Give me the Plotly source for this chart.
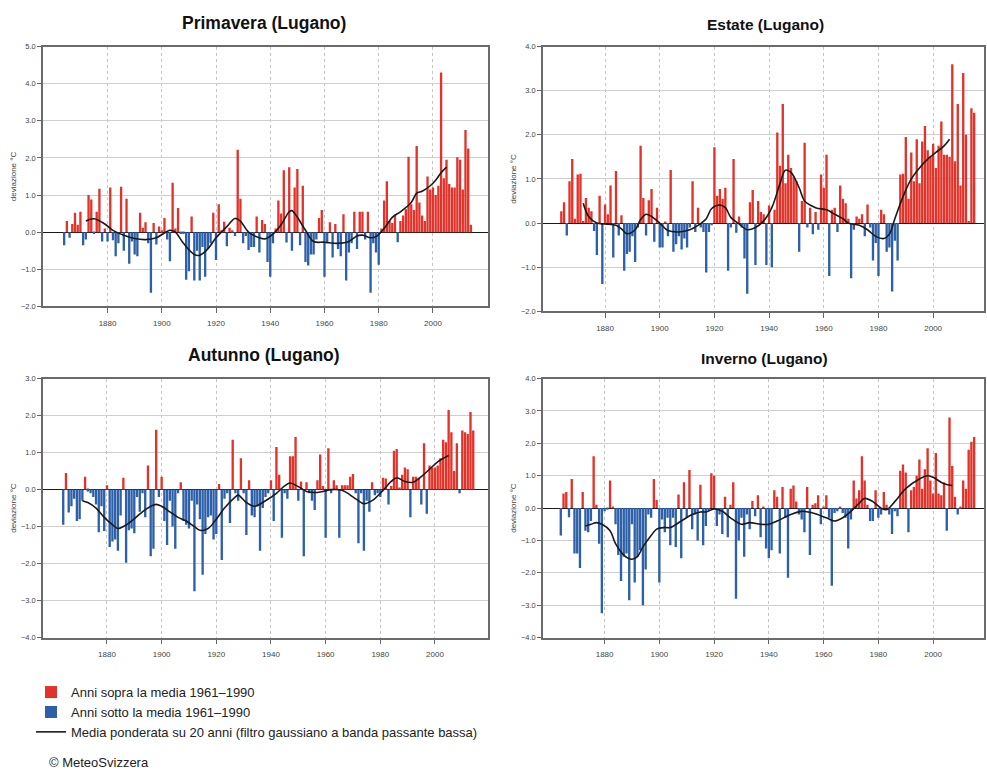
import plotly.graph_objects as go

W, H = 987, 777

# ---------------- data (deviation from 1961-1990 mean, °C) ----------------
prim_first_year = 1864
prim_values = [
    -0.35, 0.30, -0.15, 0.22, 0.52, 0.20, 0.55, -0.35, -0.20, 1.00, 0.88, -0.05, 0.55, 1.17, -0.25, 0.10,
    -0.25, 1.20, -0.22, -0.65, -0.30, 1.22, -0.50, 0.90, -0.85, -0.25, -0.60, -0.65, 0.52, 0.12, 0.27, -0.30, -1.63, 0.25, -0.33, 0.15,
    0.05, 0.38, -0.20, -0.78, 1.33, 0.10, 0.65, -0.05, -0.05, -1.28, -1.05, 0.42, -1.30, -0.50, -1.30, -0.40, -1.20, -0.45, -0.30, 0.52,
    -0.75, 0.75, 0.05, 0.28, -0.38, 0.12, 0.05, -0.10, 2.22, 0.90, -0.30, -0.10, -0.48, -0.40, -0.40, 0.42, -0.55, 0.33, 0.22, -0.80,
    -1.20, -0.30, 0.10, 0.85, 0.50, 1.67, -0.28, 1.75, -0.50, 1.20, 1.70, -0.35, 1.25, -0.80, -0.90, -0.60, -0.60, -0.20, 0.38, 0.60,
    -1.20, -0.30, 0.27, -0.68, 0.22, -0.45, -0.65, 0.48, -1.30, -0.55, -0.30, 0.55, -0.45, 0.55, 0.55, -0.20, 0.55, -1.63, -0.30, -0.55,
    -0.88, 0.10, 0.85, 1.37, 0.30, 0.25, 0.45, -0.27, 0.30, 0.45, 0.62, 2.03, 0.75, 0.60, 2.32, 0.80, 0.45, 0.30, 1.50, 1.15,
    1.20, 1.00, 1.25, 4.30, 1.45, 1.95, 1.30, 1.20, 1.20, 2.02, 1.95, 1.15, 2.75, 2.25, 0.20,
]
prim_curve_years = [1872, 1875, 1879, 1882, 1886, 1890, 1894, 1898, 1901, 1903, 1905, 1908, 1912, 1914, 1917,
                    1920, 1924, 1927, 1929, 1932, 1936, 1938, 1941, 1944, 1947, 1948, 1950, 1953, 1956, 1960,
                    1965, 1969, 1972, 1974, 1977, 1979, 1982, 1985, 1988, 1992, 1994, 1996, 1999, 2001, 2003, 2005]
prim_curve_values = [0.30, 0.36, 0.22, 0.05, -0.08, -0.17, -0.20, -0.15, -0.02, 0.05, 0.00, -0.30, -0.60, -0.62, -0.45,
                     -0.15, 0.15, 0.37, 0.30, 0.00, -0.15, -0.18, -0.05, 0.20, 0.55, 0.58, 0.40, 0.05, -0.25, -0.27,
                     -0.30, -0.25, -0.10, -0.08, -0.15, -0.12, 0.10, 0.40, 0.55, 0.80, 1.05, 1.10, 1.25, 1.40, 1.60, 1.75]

est_first_year = 1864
est_values = [
    0.27, 0.47, -0.28, 0.95, 1.45, 0.10, 1.10, 1.12, 0.05, 0.57, 0.35, 0.27, -0.18, -0.72, 0.62, -1.38,
    0.42, 0.20, 0.85, -0.78, 1.18, -0.28, 0.18, -1.08, -0.70, -0.65, -0.30, -0.88, -0.10, 1.75, 0.57, -0.28, 0.52, 0.77, -0.42, 0.35,
    -0.55, -0.55, 0.03, -0.30, 1.20, -0.65, -0.48, -0.30, -0.60, -0.35, -0.55, -0.10, 0.95, -0.20, 0.35, -0.10, -0.20, -1.12, -0.20, -0.05,
    1.72, 0.62, 0.77, 0.55, 0.80, -1.08, -0.10, 1.45, -0.22, 0.15, -0.10, -0.80, -1.60, 0.47, 0.75, -0.95, 0.50, 0.25, 0.20, -0.95,
    0.40, -1.00, 0.30, 2.05, 1.30, 2.70, 0.90, 1.55, 1.25, 1.05, 0.95, -0.65, 0.50, 1.82, -0.10, 0.35, -0.25, 0.25, -0.15, 1.10,
    0.80, 1.55, -1.20, 0.30, 0.35, -0.20, 0.85, 0.55, 0.45, 0.10, -1.25, -0.15, 0.15, 0.10, 0.20, -0.30, 0.42, -0.10, -0.85, -0.45,
    -1.20, 0.30, 0.20, -0.65, -0.55, -1.55, -0.40, -0.85, 1.10, 1.12, 1.95, 0.55, 1.60, 0.95, 1.90, 0.90, 1.85, 2.20, 1.65, 1.50,
    1.80, 1.25, 1.75, 2.30, 1.55, 1.55, 1.50, 3.60, 1.40, 2.70, 0.85, 3.40, 2.00, 0.05, 2.60, 2.50,
]
est_curve_years = [1872, 1874, 1877, 1880, 1884, 1886, 1888, 1891, 1893, 1895, 1897, 1900, 1903, 1907, 1911, 1914,
                   1917, 1919, 1922, 1924, 1926, 1929, 1932, 1935, 1938, 1941, 1944, 1946, 1948, 1951, 1953, 1957,
                   1961, 1964, 1967, 1969, 1973, 1976, 1979, 1982, 1984, 1986, 1989, 1992, 1995, 1998, 2001, 2004, 2006]
est_curve_values = [0.45, 0.15, 0.00, -0.02, -0.05, -0.13, -0.24, -0.15, 0.08, 0.20, 0.15, 0.00, -0.17, -0.20, -0.15, -0.05,
                    0.10, 0.33, 0.41, 0.35, 0.13, -0.02, -0.15, -0.10, 0.05, 0.35, 0.90, 1.20, 1.15, 0.80, 0.50, 0.35,
                    0.30, 0.20, 0.10, 0.00, -0.05, -0.15, -0.30, -0.35, -0.25, 0.10, 0.60, 1.00, 1.25, 1.45, 1.60, 1.75, 1.90]

aut_first_year = 1864
aut_values = [
    -0.95, 0.45, -0.62, -0.45, -0.25, -0.85, -0.80, -0.30, 0.35, -0.05, -0.10, -0.20, -0.40, -1.15, -0.45, -1.12,
    0.12, -1.55, -1.40, -1.35, -1.65, -0.70, 0.32, -1.98, -1.10, -1.05, -1.18, -0.20, -0.60, -0.10, -0.75, 0.65, -1.80, -1.60, 1.62, -0.20,
    0.35, -0.85, -1.50, -0.30, -1.00, -1.60, -0.10, 0.20, -0.85, -0.95, -1.05, -0.30, -2.75, -0.40, -0.80, -2.30, -1.20, -0.75, -0.70, -1.35,
    -1.20, 0.15, -1.90, -0.25, -0.10, -0.90, 1.35, -0.10, -0.30, 0.85, -0.10, -1.23, 0.25, -0.70, -0.75, -0.45, -1.65, -0.50, -0.20, -0.10,
    0.25, -0.85, 1.15, 0.40, -1.30, -0.10, -0.25, 0.90, 0.90, 1.42, -0.30, 0.22, -1.80, 0.20, -0.10, -0.30, -0.55, 0.25, 0.95, 0.10,
    -1.30, 1.12, -0.10, 0.25, 0.12, -1.30, 0.12, 0.12, 0.12, 0.35, 0.42, -0.10, -1.45, -0.10, -1.65, -0.30, -0.60, 0.20, -0.15, -0.10,
    -0.20, 0.32, 0.30, -0.40, 0.10, 1.05, 1.10, 0.05, 0.40, 0.60, 0.55, -0.75, 0.35, 0.35, 0.32, -0.40, 1.25, -0.65, 0.65, 0.60,
    0.60, 0.65, 0.85, 1.35, 1.28, 2.15, 1.55, 0.50, 1.25, -0.10, 1.60, 1.55, 1.50, 2.10, 1.60,
]
aut_curve_years = [1871, 1873, 1876, 1879, 1882, 1884, 1886, 1889, 1893, 1896, 1898, 1900, 1903, 1906, 1909, 1912,
                   1914, 1917, 1920, 1923, 1927, 1928, 1931, 1934, 1938, 1942, 1945, 1947, 1950, 1953, 1956, 1959,
                   1962, 1966, 1971, 1974, 1977, 1981, 1984, 1986, 1989, 1992, 1995, 1998, 2001, 2005]
aut_curve_values = [-0.30, -0.35, -0.50, -0.75, -0.95, -1.05, -1.00, -0.85, -0.60, -0.45, -0.40, -0.45, -0.60, -0.75, -0.85, -1.00,
                    -1.10, -1.05, -0.80, -0.50, -0.20, -0.15, -0.35, -0.45, -0.30, -0.10, 0.10, 0.18, 0.08, -0.05, -0.08, -0.05,
                    0.00, -0.02, -0.25, -0.38, -0.30, -0.02, 0.22, 0.32, 0.22, 0.20, 0.35, 0.55, 0.75, 0.92]

inv_first_year = 1864
inv_values = [
    -0.85, 0.45, 0.50, -0.28, 0.90, -1.40, -1.40, -1.85, 0.50, -0.70, -0.75, -0.40, 1.60, 0.10, -1.10, -3.25,
    -0.10, -0.05, 0.85, 0.05, -0.50, -1.45, -2.25, -1.50, -1.40, -2.85, -0.50, -2.30, -1.50, -1.30, -3.00, -1.90, -0.20, -0.30, 0.90, 0.25,
    -2.30, -0.35, -0.75, -0.30, -1.15, -0.30, -1.20, 0.42, -1.55, 0.80, -0.30, 1.18, -0.65, -0.20, -1.00, 0.72, -1.15, -0.55, -0.10, 1.08,
    1.00, -0.55, -0.20, -0.80, 0.35, -0.90, 0.10, 0.80, -2.80, -1.00, -0.30, -1.50, -0.20, -0.65, 0.22, -0.25, 0.40, -0.90, 0.05, -1.25,
    -1.55, -1.30, 0.55, 0.35, -1.40, 0.65, -0.30, -2.15, 0.60, 0.70, 0.20, -0.20, -0.35, -0.75, 0.65, -1.45, 0.10, 0.15, 0.40, -0.50,
    0.05, 0.40, -0.30, -2.40, -0.15, -0.10, 0.05, -0.15, -0.30, -1.25, -0.35, 0.85, 0.30, 0.55, 1.60, 0.85, 0.10, -0.40, -0.40, 0.55,
    -0.30, -0.20, 0.50, 0.10, -0.20, -0.80, -0.10, -0.25, 1.15, 1.35, 1.10, -0.75, 0.55, 0.65, 1.00, 1.50, 0.60, 1.20, 1.85, 0.85,
    0.45, 1.70, 0.45, 0.40, 0.80, -0.70, 2.80, 1.30, 0.35, -0.20, 0.05, 0.85, 0.60, 1.80, 2.05, 2.20,
]
inv_curve_years = [1873, 1875, 1877, 1879, 1882, 1884, 1887, 1890, 1892, 1894, 1897, 1899, 1902, 1904, 1908, 1912,
                   1915, 1917, 1920, 1923, 1926, 1930, 1933, 1937, 1940, 1943, 1948, 1952, 1956, 1961, 1964, 1967,
                   1970, 1973, 1975, 1978, 1981, 1983, 1986, 1990, 1995, 1998, 2000, 2004, 2007]
inv_curve_values = [-0.55, -0.50, -0.45, -0.50, -0.70, -1.10, -1.45, -1.58, -1.50, -1.20, -0.85, -0.65, -0.60, -0.60, -0.40, -0.20,
                    -0.12, -0.12, -0.03, -0.10, -0.30, -0.50, -0.45, -0.50, -0.50, -0.40, -0.20, -0.10, -0.15, -0.30, -0.40, -0.30,
                    -0.10, 0.15, 0.30, 0.20, 0.00, -0.05, 0.20, 0.60, 0.90, 1.00, 0.95, 0.75, 0.70]

x_tick_values = [1880, 1900, 1920, 1940, 1960, 1980, 2000]
x_tick_labels = ["1880", "1900", "1920", "1940", "1960", "1980", "2000"]

legend_above = "Anni sopra la media 1961\u20131990"
legend_below = "Anni sotto la media 1961\u20131990"
legend_curve = "Media ponderata su 20 anni (filtro gaussiano a banda passante bassa)"

# ---------------- styling / layout ----------------
RED = "#e2332a"
BLUE = "#2d60a8"
FONT = "Liberation Sans, Arial, sans-serif"

panels = [
    dict(title="Primavera (Lugano)", first=prim_first_year, vals=prim_values,
         cx=prim_curve_years, cy=prim_curve_values,
         px=(43, 488), py=(43, 306), xr=(1856.2, 2020.3), yr=(-2, 5), tpos=(264, 19), tsize=17.5),
    dict(title="Estate (Lugano)", first=est_first_year, vals=est_values,
         cx=est_curve_years, cy=est_curve_values,
         px=(543, 984), py=(43, 311), xr=(1857.3, 2018.6), yr=(-2, 4), tpos=(765, 21), tsize=15.5),
    dict(title="Autunno (Lugano)", first=aut_first_year, vals=aut_values,
         cx=aut_curve_years, cy=aut_curve_values,
         px=(43, 488), py=(379, 641), xr=(1856.6, 2019.4), yr=(-4, 3), tpos=(264, 355), tsize=17.5),
    dict(title="Inverno (Lugano)", first=inv_first_year, vals=inv_values,
         cx=inv_curve_years, cy=inv_curve_values,
         px=(543, 984), py=(379, 641), xr=(1857.5, 2018.6), yr=(-4, 4), tpos=(764, 359), tsize=15.5),
]

fig = go.Figure()
annotations = []
layout_axes = {}

for i, p in enumerate(panels):
    n = i + 1
    xa = "x" if n == 1 else f"x{n}"
    ya = "y" if n == 1 else f"y{n}"
    years = list(range(p["first"], p["first"] + len(p["vals"])))
    pos = [v if v >= 0 else None for v in p["vals"]]
    neg = [v if v < 0 else None for v in p["vals"]]
    first = (i == 0)
    fig.add_trace(go.Bar(x=years, y=pos, marker=dict(color=RED, line=dict(width=0)), width=0.86,
                         name=legend_above, showlegend=first, legendgroup="a", xaxis=xa, yaxis=ya))
    fig.add_trace(go.Bar(x=years, y=neg, marker=dict(color=BLUE, line=dict(width=0)), width=0.86,
                         name=legend_below, showlegend=first, legendgroup="b", xaxis=xa, yaxis=ya))
    fig.add_trace(go.Scatter(x=p["cx"], y=p["cy"], mode="lines",
                             line=dict(color="#1a1a1a", width=1.6, shape="spline", smoothing=1.0),
                             name=legend_curve, showlegend=first, legendgroup="c", xaxis=xa, yaxis=ya))

    xkey = "xaxis" if n == 1 else f"xaxis{n}"
    ykey = "yaxis" if n == 1 else f"yaxis{n}"
    layout_axes[xkey] = dict(
        domain=[p["px"][0] / W, p["px"][1] / W], anchor=ya, range=list(p["xr"]),
        tickmode="array", tickvals=x_tick_values, ticktext=x_tick_labels,
        ticks="outside", ticklen=5, tickcolor="#666", tickwidth=1,
        tickfont=dict(size=8, color="#444", family=FONT), ticklabelstandoff=3,
        showgrid=True, gridcolor="#c4c4c4", gridwidth=1, griddash="dot",
        showline=True, linecolor="#6b6b6b", linewidth=1.5, mirror=True, zeroline=False,
    )
    layout_axes[ykey] = dict(
        domain=[1 - p["py"][1] / H, 1 - p["py"][0] / H], anchor=xa, range=list(p["yr"]),
        dtick=1, tick0=0, tickformat=".1f",
        ticks="outside", ticklen=4, tickcolor="#666", tickwidth=1,
        tickfont=dict(size=7.5, color="#444", family=FONT), ticklabelstandoff=0,
        showgrid=True, gridcolor="#cfcfcf", gridwidth=1,
        showline=True, linecolor="#6b6b6b", linewidth=1.5, mirror=True,
        zeroline=True, zerolinecolor="#1a1a1a", zerolinewidth=1.2,
        title=dict(text="deviazione °C", font=dict(size=8, color="#444", family=FONT), standoff=3),
    )
    annotations.append(dict(text=f"<b>{p['title']}</b>", x=p["tpos"][0] / W, y=1 - p["tpos"][1] / H,
                            xref="paper", yref="paper", xanchor="center", yanchor="middle",
                            showarrow=False, font=dict(size=p["tsize"], color="#111", family=FONT)))

annotations.append(dict(text="© MeteoSvizzera", x=47 / W, y=1 - 767 / H, xref="paper", yref="paper",
                        xanchor="left", yanchor="middle", showarrow=False,
                        font=dict(size=13, color="#222", family=FONT)))

fig.update_layout(
    width=W, height=H, margin=dict(l=0, r=0, t=0, b=0),
    paper_bgcolor="white", plot_bgcolor="white",
    barmode="overlay", bargap=0.2,
    annotations=annotations,
    showlegend=True,
    legend=dict(x=31 / W, y=1 - 681 / H, xanchor="left", yanchor="top",
                font=dict(size=13, color="#222", family=FONT), bgcolor="rgba(0,0,0,0)",
                tracegroupgap=2, traceorder="normal"),
    **layout_axes,
)

fig.write_html("out.html", config={"displayModeBar": False},
               post_script="document.body.style.margin='0';document.body.style.overflow='hidden';")
